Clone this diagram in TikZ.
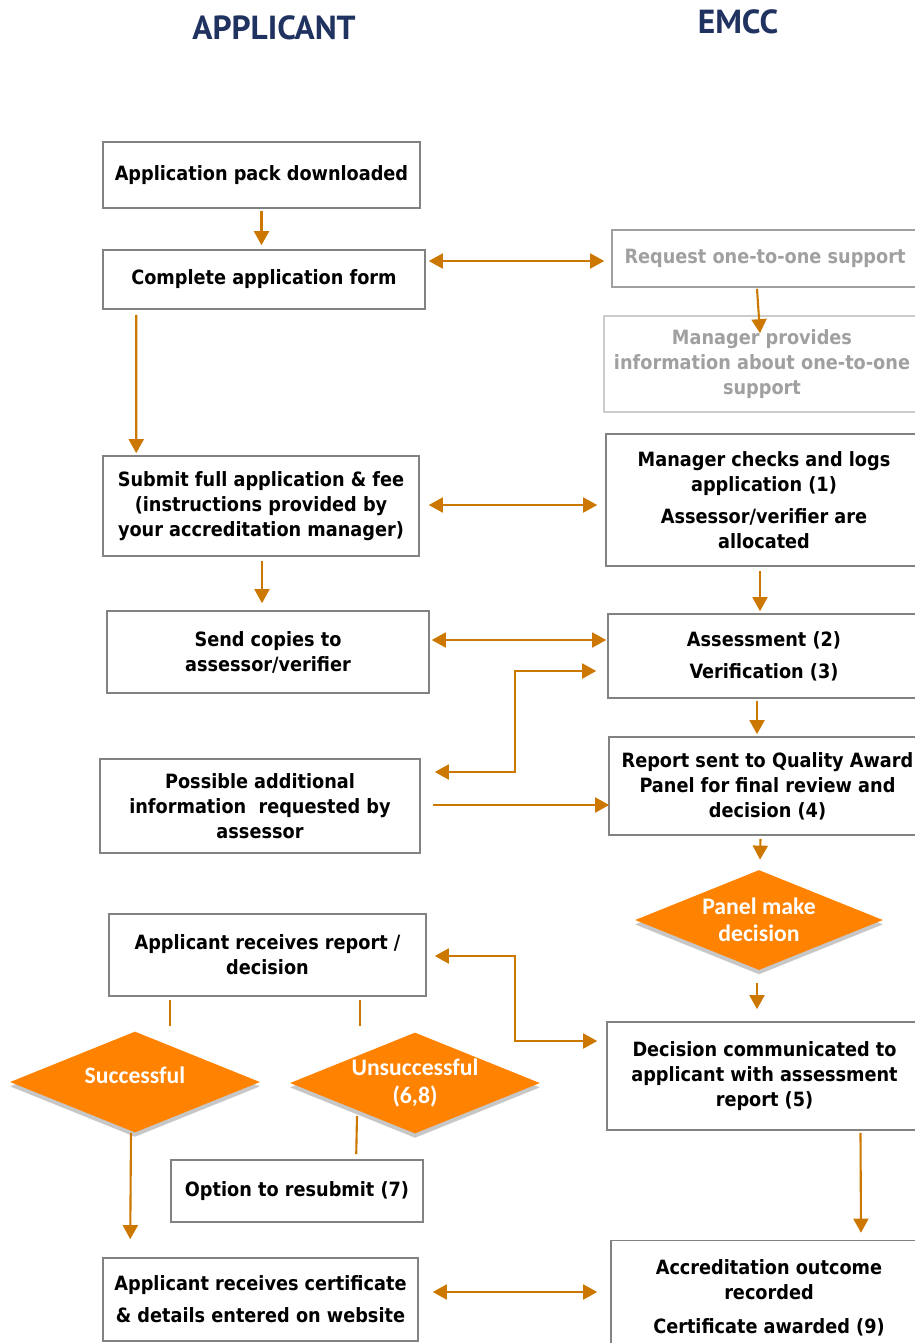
\documentclass[tikz,border=0pt]{standalone}
\usepackage{fontspec}
\setmainfont{DejaVu Sans Condensed}
\newfontfamily\headfont{PT Sans}
\newfontfamily\diafont{Carlito}
\usetikzlibrary{arrows.meta,positioning,calc,shapes.geometric,shadows}

\definecolor{linkorange}{RGB}{204,119,0}
\definecolor{diaorange}{RGB}{255,130,0}
\definecolor{headblue}{RGB}{31,50,96}
\definecolor{boxgray}{RGB}{130,130,130}
\definecolor{softgray}{RGB}{160,160,160}

\begin{document}
\begin{tikzpicture}[x=0.02cm, y=-0.02cm, >={Triangle[length=8pt,width=8.5pt]},
    box/.style={draw=boxgray, line width=0.9pt, align=center, inner sep=0pt,
        font=\bfseries\fontsize{11.2}{14.2}\selectfont},
    softbox/.style={box, draw=softgray, text=softgray},
    decide/.style={diamond, aspect=2.48, fill=diaorange, text=white, align=center, inner sep=-4pt,
        font=\diafont\bfseries\fontsize{13.5}{15.5}\selectfont,
        drop shadow={shadow xshift=0pt, shadow yshift=-2.5pt, fill=black!22, opacity=1}},
    head/.style={text=headblue, font=\headfont\bfseries\fontsize{19}{22}\selectfont},
    link/.style={draw=linkorange, line width=1.2pt}]

    \useasboundingbox (0,0) rectangle (915,1343);
    \clip (0,0) rectangle (915,1343);

    % Column titles
    \node[head] (applicant) at (274,28) {APPLICANT};
    \node[head] (emcc) at (738,22) {EMCC};

    % Applicant column
    \node[box, minimum width=6.34cm, minimum height=1.32cm] (pack) at (261.5,175) {Application pack downloaded};
    \node[box, minimum width=6.44cm, minimum height=1.18cm] (form) at (264,279.5) {Complete application form};
    \node[box, minimum width=6.32cm, minimum height=2.00cm] (submit) at (261,506) {Submit full application \& fee\\(instructions provided by\\your accreditation manager)};
    \node[box, minimum width=6.44cm, minimum height=1.64cm] (copies) at (268,652) {Send copies to\\assessor/verifier};
    \node[box, minimum width=6.40cm, minimum height=1.88cm] (extra) at (260,806) {Possible additional\\information\ \ requested by\\assessor};
    \node[box, minimum width=6.34cm, minimum height=1.64cm] (receive) at (267.5,955) {Applicant receives report /\\decision};
    \node[decide, minimum width=5.0cm, minimum height=2.02cm] (success) at (135,1082) {\raisebox{8pt}{Successful}};
    \node[decide, minimum width=5.0cm, minimum height=2.02cm] (fail) at (415,1083) {Unsuccessful\\(6,8)};
    \node[box, minimum width=5.04cm, minimum height=1.24cm] (resubmit) at (297,1191) {Option to resubmit (7)};
    \node[box, minimum width=6.30cm, minimum height=1.66cm] (cert) at (260.5,1299.5) {Applicant receives certificate\\[4pt]\& details entered on website};

    % EMCC column
    \node[softbox, minimum width=6.12cm, minimum height=1.14cm] (request) at (765,258.5) {Request one-to-one support};
    \node[softbox, draw=black!20, minimum width=6.32cm, minimum height=1.92cm] (support) at (762,364) {Manager provides\\information about one-to-one\\support};
    \node[box, minimum width=6.32cm, minimum height=2.64cm] (logs) at (764,500) {Manager checks and logs\\application (1)\\[4pt]Assessor/verifier are\\allocated};
    \node[box, minimum width=6.24cm, minimum height=1.68cm] (assess) at (764,656) {Assessment (2)\\[4pt]Verification (3)};
    \node[box, minimum width=6.34cm, minimum height=1.96cm] (panel) at (767.5,786) {Report sent to Quality Award\\Panel for final review and\\decision (4)};
    \node[decide, minimum width=4.96cm, minimum height=2.0cm] (verdict) at (759,920) {Panel make\\decision};
    \node[box, minimum width=6.30cm, minimum height=2.16cm] (inform) at (764.5,1076) {Decision communicated to\\applicant with assessment\\report (5)};
    \node[box, minimum width=6.32cm, minimum height=2.30cm] (outcome) at (769,1298) {Accreditation outcome\\recorded\\[5pt]Certificate awarded (9)};

    % Connectors
    \draw[link, ->] ($(pack.south)+(0,2)$) -- ($(pack.south |- form.north)+(0,-4)$);
    \draw[link, <->] ($(form.east |- request.west)+(3,2.5)$) -- ($(request.west)+(-7,2.5)$);
    \draw[link, ->] ($(request.south)+(-8,1)$) -- ($(support.north)+(-2,18)$);
    \draw[link, ->] ($(form.south west)+(34,5)$) -- ($(submit.north west)+(34,-2)$);
    \draw[link, <->] ($(submit.east)+(9,-1)$) -- ($(submit.east -| logs.west)+(-8,-1)$);
    \draw[link, ->] ($(submit.south)+(1,4)$) -- ($(submit.south |- copies.north)+(1,-7)$);
    \draw[link, ->] ($(logs.south)+(-4,4)$) -- ($(logs.south |- assess.north)+(-4,-2)$);
    \draw[link, <->] ($(copies.east)+(2,-12)$) -- ($(copies.east -| assess.west)+(-1,-12)$);
    \draw[link, <->] ($(extra.east)+(14,-34)$) -| ($(assess.west)+(-92,15)$) -- ($(assess.west)+(-11,15)$);
    \draw[link, ->] ($(extra.east)+(12,-1)$) -- ($(extra.east -| panel.west)+(1,-1)$);
    \draw[link, ->] ($(assess.south)+(-7,2)$) -- ($(assess.south |- panel.north)+(-7,-2)$);
    \draw[link, ->] ($(panel.south)+(-7,3)$) -- ($(verdict.north)+(1,-10)$);
    \draw[link, ->] ($(verdict.south)+(-2,13)$) -- ($(inform.north)+(-7.5,-12)$);
    \draw[link, <->] ($(receive.east)+(8,1)$) -| ($(inform.west)+(-91,-35)$) -- ($(inform.west)+(-9,-35)$);
    \draw[link] ($(receive.south west)+(62,3)$) -- ($(receive.south west)+(62,29)$);
    \draw[link] ($(receive.south west)+(252,3)$) -- ($(receive.south west)+(252,29)$);
    \draw[link, ->] ($(success.south)+(-4,0)$) -- ($(cert.north west)+(28,-18)$);
    \draw[link] ($(fail.center)+(-58,33)$) -- ($(resubmit.north west)+(186,-5)$);
    \draw[link, ->] ($(inform.south)+(96,2)$) -- ($(outcome.north)+(92,-7)$);
    \draw[link, <->] ($(cert.east)+(14,-7.5)$) -- ($(cert.east -| outcome.west)+(-13,-7.5)$);
\end{tikzpicture}
\end{document}
